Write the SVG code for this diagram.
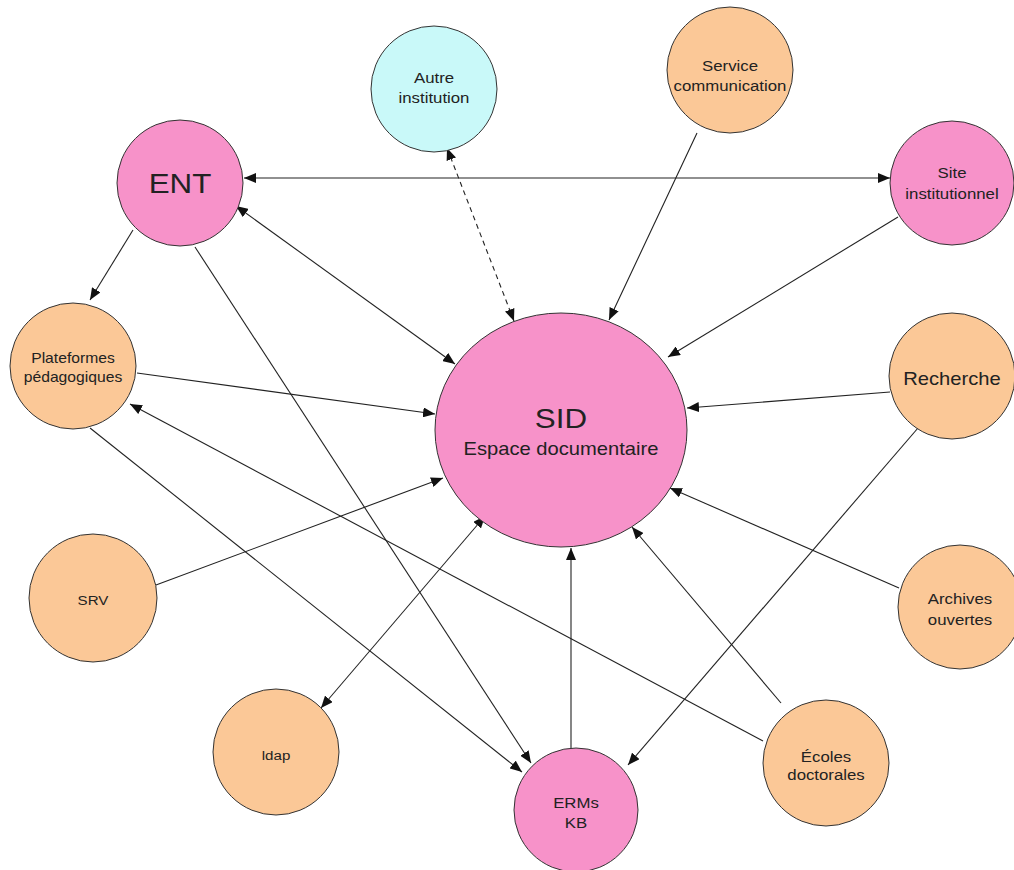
<svg xmlns="http://www.w3.org/2000/svg" width="1014" height="870" viewBox="0 0 1014 870">
<style>
.pink{fill:#f792c9;stroke:#333;stroke-width:1}
.orange{fill:#fbc897;stroke:#333;stroke-width:1}
.cyan{fill:#c9f9f9;stroke:#333;stroke-width:1}
.t{font-family:"Liberation Sans",Arial,sans-serif;fill:#222;text-anchor:middle}
.s{font-size:15px}
.c{stroke:#222;stroke-width:1.1;fill:none;marker-end:url(#a)}
.b{marker-start:url(#a)}
.d{stroke-dasharray:5 4}
</style>
<defs>
<marker id="a" viewBox="0 0 12 10" refX="12" refY="5" markerWidth="12" markerHeight="10" markerUnits="userSpaceOnUse" orient="auto-start-reverse">
<path d="M0,0 L12,5 L0,10 z" fill="#111"/>
</marker>
</defs>
<rect width="1014" height="870" fill="#fff"/>
<g id="connectors">
<line class="c b" x1="244" y1="178" x2="890" y2="178"/>
<line class="c b" x1="236" y1="206" x2="455" y2="364"/>
<line class="c" x1="133" y1="230" x2="90" y2="300"/>
<line class="c" x1="195" y1="247" x2="531" y2="763"/>
<line class="c b d" x1="514" y1="321" x2="447" y2="148"/>
<line class="c" x1="697" y1="133" x2="609" y2="320"/>
<line class="c" x1="898" y1="217" x2="668" y2="357"/>
<line class="c" x1="137" y1="373" x2="435" y2="414"/>
<line class="c" x1="890" y1="392" x2="687" y2="408"/>
<line class="c" x1="918" y1="428" x2="628" y2="765"/>
<line class="c" x1="156" y1="585" x2="443" y2="478"/>
<line class="c" x1="90" y1="428" x2="522" y2="772"/>
<line class="c" x1="763" y1="741" x2="130" y2="404"/>
<line class="c" x1="899" y1="588" x2="670" y2="488"/>
<line class="c" x1="781" y1="703" x2="632" y2="527"/>
<line class="c" x1="571" y1="748" x2="571" y2="548"/>
<line class="c b" x1="321" y1="708" x2="485" y2="516"/>
</g>
<g id="autre"><circle class="cyan" cx="434" cy="89" r="63"/><g transform="translate(434,0) scale(1.12,1)"><text class="t s" x="0" y="83">Autre</text><text class="t s" x="0" y="103">institution</text></g></g>
<g id="service"><circle class="orange" cx="730" cy="70" r="63"/><g transform="translate(730,0) scale(1.12,1)"><text class="t s" x="0" y="71">Service</text><text class="t s" x="0" y="91">communication</text></g></g>
<g id="ent"><circle class="pink" cx="180" cy="183" r="63"/><g transform="translate(180,0) scale(1.12,1)"><text class="t" x="0" y="193" font-size="28">ENT</text></g></g>
<g id="site"><circle class="pink" cx="952" cy="183" r="62"/><g transform="translate(952,0) scale(1.12,1)"><text class="t s" x="0" y="178">Site</text><text class="t s" x="0" y="199">institutionnel</text></g></g>
<g id="plateformes"><circle class="orange" cx="73" cy="366" r="63"/><g transform="translate(73,0) scale(1.12,1)"><text class="t" font-size="14" x="0" y="363">Plateformes</text><text class="t" font-size="14" x="0" y="382">pédagogiques</text></g></g>
<g id="sid"><ellipse class="pink" cx="561" cy="430" rx="126" ry="117"/><g transform="translate(561,0) scale(1.12,1)"><text class="t" x="0" y="428" font-size="28">SID</text><text class="t" x="0" y="455" font-size="18">Espace documentaire</text></g></g>
<g id="recherche"><circle class="orange" cx="952" cy="376" r="63"/><g transform="translate(952,0) scale(1.12,1)"><text class="t" x="0" y="385" font-size="18">Recherche</text></g></g>
<g id="srv"><circle class="orange" cx="93" cy="598" r="64"/><g transform="translate(93,0) scale(1.12,1)"><text class="t" font-size="13.5" x="0" y="605">SRV</text></g></g>
<g id="archives"><circle class="orange" cx="960" cy="607" r="62"/><g transform="translate(960,0) scale(1.12,1)"><text class="t s" x="0" y="604">Archives</text><text class="t s" x="0" y="625">ouvertes</text></g></g>
<g id="ldap"><circle class="orange" cx="276" cy="752" r="63"/><g transform="translate(276,0) scale(1.12,1)"><text class="t" font-size="13.5" x="0" y="760">ldap</text></g></g>
<g id="erms"><circle class="pink" cx="576" cy="810" r="62"/><g transform="translate(576,0) scale(1.12,1)"><text class="t s" x="0" y="808">ERMs</text><text class="t s" x="0" y="828">KB</text></g></g>
<g id="ecoles"><circle class="orange" cx="826" cy="763" r="63"/><g transform="translate(826,0) scale(1.12,1)"><text class="t s" x="0" y="762">Écoles</text><text class="t s" x="0" y="780">doctorales</text></g></g>
</svg>
